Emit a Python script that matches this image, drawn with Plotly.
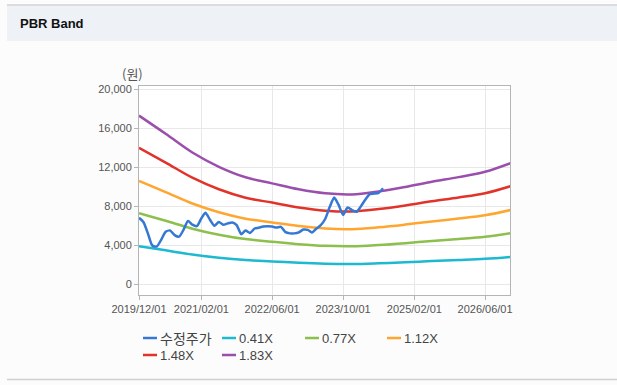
import plotly.graph_objects as go

# ---------------- data ----------------
band_dates = ["2019-12-01", "2020-06-01", "2020-12-01", "2021-06-01", "2021-12-01",
              "2022-06-01", "2022-12-01", "2023-06-01", "2023-12-01", "2024-06-01",
              "2024-12-01", "2025-06-01", "2025-12-01", "2026-06-01", "2026-12-01"]

band_041 = [3875, 3456, 3026, 2698, 2456, 2317, 2179, 2087, 2062, 2132, 2235, 2353, 2460, 2583, 2792]
band_077 = [7277, 6491, 5683, 5067, 4612, 4351, 4093, 3919, 3873, 4004, 4197, 4420, 4620, 4851, 5244]
band_112 = [10584, 9442, 8266, 7370, 6709, 6328, 5953, 5701, 5634, 5824, 6104, 6429, 6720, 7056, 7627]
band_148 = [13986, 12476, 10922, 9738, 8865, 8362, 7866, 7533, 7444, 7696, 8066, 8495, 8880, 9324, 10079]
band_183 = [17294, 15427, 13505, 12041, 10962, 10340, 9726, 9315, 9205, 9516, 9974, 10504, 10980, 11529, 12462]

price_dates = [f"{2019 + (11 + i) // 12}-{(11 + i) % 12 + 1:02d}-01" for i in range(56)]
price = [6810, 6350, 5150, 3950, 3850, 4540, 5360, 5500, 5020, 4860,
         5550, 6480, 6100, 5950, 6750, 7330, 6600, 5980, 6380, 6080,
         6230, 6320, 6050, 5120, 5500, 5250, 5700, 5780, 5900, 5940,
         5900, 5800, 5870, 5330, 5200, 5200, 5300, 5590, 5560, 5290,
         5700, 6040, 6700, 7900, 8880, 8100, 7100, 7850, 7600, 7420,
         8000, 8650, 9240, 9290, 9360, 9830]

series_names = ["수정주가", "0.41X", "0.77X", "1.12X", "1.48X", "1.83X"]
series_colors = ["#3578d4", "#1cb9d0", "#8dbf4c", "#ffa630", "#e2332b", "#9b4fad"]

x_tickvals = ["2019-12-01", "2021-02-01", "2022-06-01", "2023-10-01", "2025-02-01", "2026-06-01"]
x_ticktext = ["2019/12/01", "2021/02/01", "2022/06/01", "2023/10/01", "2025/02/01", "2026/06/01"]
y_tickvals = [0, 4000, 8000, 12000, 16000, 20000]

# ---------------- layout helpers ----------------
W, H = 617, 385
L, R, T, B = 139, 510, 86, 295


def px(x):
    return (x - L) / (R - L)


def py(y):
    return (B - y) / (B - T)


FONT = "Liberation Sans, Arial, Noto Sans CJK KR, sans-serif"
KFONT = "Noto Sans CJK KR, Liberation Sans, sans-serif"

fig = go.Figure()

for name, color, vals in zip(series_names[1:], series_colors[1:],
                             [band_041, band_077, band_112, band_148, band_183]):
    fig.add_trace(go.Scatter(x=band_dates, y=vals, mode="lines", name=name,
                             line=dict(color=color, width=2.5, shape="spline", smoothing=1.0)))
fig.add_trace(go.Scatter(x=price_dates, y=price, mode="lines", name=series_names[0],
                         line=dict(color=series_colors[0], width=2.5, shape="spline", smoothing=0.6)))

shapes = [
    dict(type="rect", xref="paper", yref="paper", x0=px(7), x1=px(617), y0=py(41), y1=py(5),
         fillcolor="#eef2f7", line=dict(width=0), layer="below"),
    dict(type="line", xref="paper", yref="paper", x0=px(7), x1=px(617), y0=py(5), y1=py(5),
         line=dict(color="#d3d3d3", width=1.5)),
    dict(type="line", xref="paper", yref="paper", x0=px(7), x1=px(617), y0=py(379.5), y1=py(379.5),
         line=dict(color="#cfcfcf", width=1.5)),
]

annotations = [
    dict(text="<b>PBR Band</b>", xref="paper", yref="paper", x=px(18), y=py(23),
         xanchor="left", yanchor="middle", showarrow=False,
         font=dict(family=FONT, size=13, color="#111111")),
    dict(text="(원)", xref="paper", yref="paper", x=px(132), y=py(73),
         xanchor="center", yanchor="middle", showarrow=False,
         font=dict(family=KFONT, size=13, color="#555555")),
]

# manual legend (positions in pixels)
legend_pos = [(143, 338), (222, 338), (305, 338), (387, 338), (143, 355), (222, 355)]
for i, (name, color, (lx, ly)) in enumerate(zip(series_names, series_colors, legend_pos)):
    shapes.append(dict(type="line", xref="paper", yref="paper", x0=px(lx), x1=px(lx + 14),
                       y0=py(ly), y1=py(ly), line=dict(color=color, width=2.5)))
    annotations.append(dict(text=name, xref="paper", yref="paper", x=px(lx + 15), y=py(ly),
                            xanchor="left", yanchor="middle", showarrow=False,
                            font=dict(family=KFONT if i == 0 else FONT,
                                      size=14 if i == 0 else 13, color="#444444")))

fig.update_layout(
    width=W, height=H,
    margin=dict(l=L, r=W - R, t=T, b=H - B, pad=0),
    paper_bgcolor="#fcfcfc",
    plot_bgcolor="#ffffff",
    showlegend=False,
    shapes=shapes,
    annotations=annotations,
    xaxis=dict(
        type="date", range=["2019-12-01", "2026-11-19"],
        tickvals=x_tickvals, ticktext=x_ticktext,
        showgrid=True, gridcolor="#e8e8e8", gridwidth=1,
        showline=True, linecolor="#b5b5b5", linewidth=1, mirror=True,
        ticks="outside", ticklen=4, tickcolor="#b5b5b5",
        tickfont=dict(family=FONT, size=11, color="#555555"),
        zeroline=False,
    ),
    yaxis=dict(
        range=[-1130, 20340],
        tickvals=y_tickvals, tickformat=",d",
        showgrid=True, gridcolor="#e8e8e8", gridwidth=1,
        showline=True, linecolor="#b5b5b5", linewidth=1, mirror=True,
        ticks="outside", ticklen=4, tickcolor="#b5b5b5",
        tickfont=dict(family=FONT, size=11, color="#555555"),
        zeroline=False,
    ),
)

fig.write_html("out.html", config={"displayModeBar": False},
               post_script="document.body.style.margin='0';")
